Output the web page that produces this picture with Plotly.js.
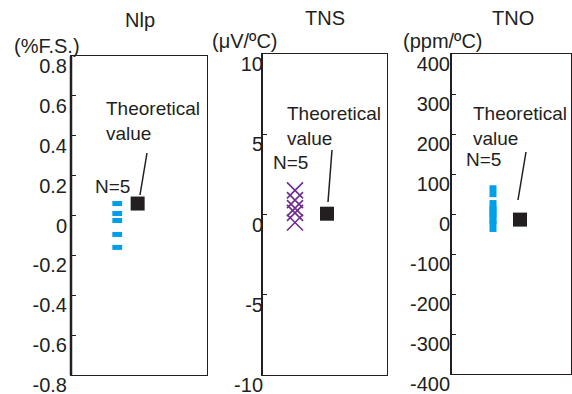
<!DOCTYPE html>
<html>
<head>
<meta charset="utf-8">
<script src="https://cdn.plot.ly/plotly-3.0.1.min.js"></script>
<style>html,body{margin:0;padding:0;background:#fff;}#chart{width:572px;height:394px;}</style>
</head>
<body>
<div id="chart"></div>
<script>
// ---- data ----
const panelTitles = ["Nlp", "TNS", "TNO"];
const panelUnits = ["(%F.S.)", "(\u03bcV/\u00baC)", "(ppm/\u00baC)"];
const nlpMeasured = [0.06, 0.01, -0.025, -0.095, -0.16];
const nlpTheoretical = [0.06];
const tnsMeasured = [1.5, 0.9, 0.4, 0.1, -0.5];
const tnsTheoretical = [0.05];
const tnoMeasured = [57, 20, 5, -10, -30];
const tnoTheoretical = [-14];
const nlpTickVals = [0.8, 0.6, 0.4, 0.2, 0, -0.2, -0.4, -0.6, -0.8];
const nlpTickText = ["0.8", "0.6", "0.4", "0.2", "0", "-0.2", "-0.4", "-0.6", "-0.8"];
const tnsTickVals = [10, 5, 0, -5, -10];
const tnsTickText = ["10", "5", "0", "-5", "-10"];
const tnoTickVals = [400, 300, 200, 100, 0, -100, -200, -300, -400];
const tnoTickText = ["400", "300", "200", "100", "0", "-100", "-200", "-300", "-400"];
const sampleLabel = "N=5";
const theoLabel = "Theoretical<br>value";

// ---- layout helpers ----
const W = 572, H = 394;
const fx = x => x / W;
const fy = y => (H - y) / H;
const INK = "#231f20";
const FONT = "Liberation Sans, Arial, Helvetica, sans-serif";

function rep(v, n) { return new Array(n).fill(v); }

const traces = [
  {x: rep(0.34, nlpMeasured.length), y: nlpMeasured, xaxis: "x", yaxis: "y", mode: "markers", type: "scatter",
   marker: {symbol: "line-ew", size: 7, color: "#00a0e9", line: {width: 5, color: "#00a0e9"}}},
  {x: [0.49], y: nlpTheoretical, xaxis: "x", yaxis: "y", mode: "markers", type: "scatter",
   marker: {symbol: "square", size: 14, color: INK}},
  {x: rep(0.264, tnsMeasured.length), y: tnsMeasured, xaxis: "x2", yaxis: "y2", mode: "markers", type: "scatter",
   marker: {symbol: "x-thin-open", size: 16, color: "#6f2c91", line: {width: 1.6, color: "#6f2c91"}}},
  {x: [0.52], y: tnsTheoretical, xaxis: "x2", yaxis: "y2", mode: "markers", type: "scatter",
   marker: {symbol: "square", size: 14, color: INK}},
  {x: rep(0.35, tnoMeasured.length), y: tnoMeasured, xaxis: "x3", yaxis: "y3", mode: "markers", type: "scatter",
   marker: {symbol: "line-ns", size: 8.5, color: "#00a0e9", line: {width: 7, color: "#00a0e9"}}},
  {x: [0.575], y: tnoTheoretical, xaxis: "x3", yaxis: "y3", mode: "markers", type: "scatter",
   marker: {symbol: "square", size: 14, color: INK}}
];

function xax(d) {
  return {domain: d, range: [0, 1], showgrid: false, zeroline: false, showticklabels: false, ticks: "",
          showline: true, mirror: true, linewidth: 1, linecolor: INK, fixedrange: true};
}
function yax(d, r, tv, tt, standoff) {
  return {domain: d, range: r, tickmode: "array", tickvals: tv, ticktext: tt, showgrid: false, zeroline: false,
          ticks: "inside", ticklen: 5, tickwidth: 1, tickcolor: INK, showline: true, mirror: true,
          linewidth: 1, linecolor: INK, ticklabelshift: 10, ticklabelstandoff: standoff,
          ticklabeloverflow: "allow", tickfont: {size: 20, color: INK, family: FONT}};
}

const ann = (text, x, y, xa, size) => ({text: text, x: fx(x), y: fy(y), xref: "paper", yref: "paper",
  xanchor: xa, yanchor: "middle", align: "left", showarrow: false, font: {size: size, color: INK, family: FONT}});

const layout = {
  width: W, height: H, margin: {l: 0, r: 0, t: 0, b: 0}, showlegend: false,
  paper_bgcolor: "#fff", plot_bgcolor: "#fff", font: {family: FONT, color: INK},
  xaxis: xax([fx(71), fx(207)]),
  yaxis: yax([fy(375), fy(56)], [-0.8, 0.8], nlpTickVals, nlpTickText, -1),
  xaxis2: Object.assign(xax([fx(262), fx(387)]), {anchor: "y2"}),
  yaxis2: Object.assign(yax([fy(375), fy(54)], [-10, 10], tnsTickVals, tnsTickText, -6), {anchor: "x2"}),
  xaxis3: Object.assign(xax([fx(451), fx(571)]), {anchor: "y3"}),
  yaxis3: Object.assign(yax([fy(374), fy(54)], [-400, 400], tnoTickVals, tnoTickText, -4), {anchor: "x3"}),
  annotations: [
    ann(panelTitles[0], 140, 20, "center", 20),
    ann(panelTitles[1], 325, 18, "center", 20),
    ann(panelTitles[2], 513, 18, "center", 20),
    ann(panelUnits[0], 47, 46, "center", 20),
    ann(panelUnits[1], 245, 41, "center", 20),
    ann(panelUnits[2], 443, 41, "center", 20),
    ann(theoLabel, 104, 121, "left", 19),
    ann(theoLabel, 285, 126, "left", 19),
    ann(theoLabel, 471, 126, "left", 19),
    ann(sampleLabel, 93, 186, "left", 19),
    ann(sampleLabel, 271, 163, "left", 19),
    ann(sampleLabel, 464, 159, "left", 19)
  ],
  shapes: [
    {type: "line", xref: "x domain", yref: "y domain", x0: 0, x1: 0, y0: 0, y1: 1, line: {color: INK, width: 2.5}},
    {type: "line", xref: "x2 domain", yref: "y2 domain", x0: 0, x1: 0, y0: 0, y1: 1, line: {color: INK, width: 2}},
    {type: "line", xref: "x3 domain", yref: "y3 domain", x0: 0, x1: 0, y0: 0, y1: 1, line: {color: INK, width: 2}},
    {type: "line", xref: "paper", yref: "paper", x0: fx(140), y0: fy(195), x1: fx(147), y1: fy(153), line: {color: INK, width: 1.5}},
    {type: "line", xref: "paper", yref: "paper", x0: fx(328), y0: fy(202), x1: fx(332), y1: fy(150), line: {color: INK, width: 1.5}},
    {type: "line", xref: "paper", yref: "paper", x0: fx(518), y0: fy(200), x1: fx(526), y1: fy(152), line: {color: INK, width: 1.5}}
  ]
};

Plotly.newPlot("chart", traces, layout, {displayModeBar: false, staticPlot: true});
</script>
</body>
</html>
